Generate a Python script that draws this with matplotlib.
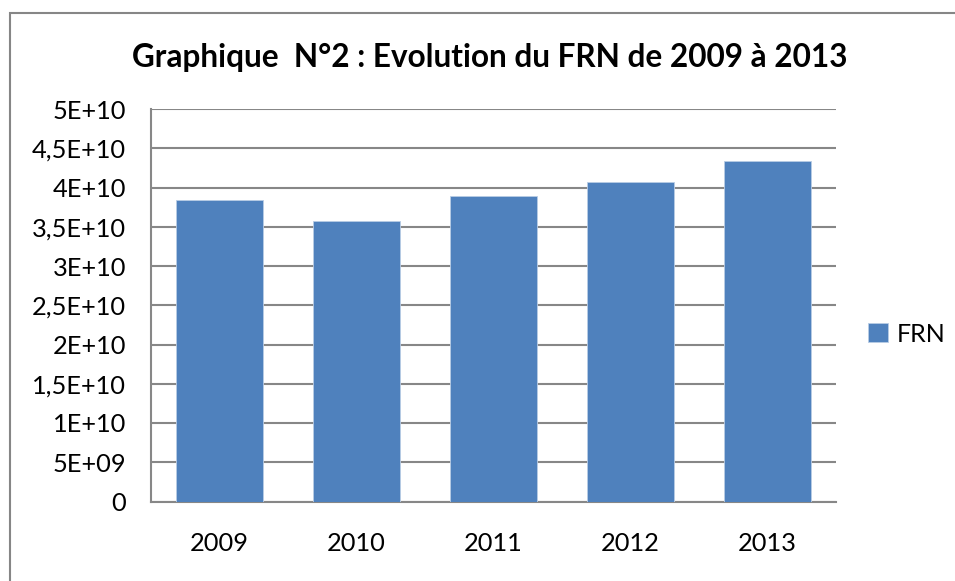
import matplotlib
matplotlib.use("Agg")
import matplotlib.pyplot as plt
from matplotlib.patches import Rectangle

years = ["2009", "2010", "2011", "2012", "2013"]
frn = [3.84e10, 3.575e10, 3.89e10, 4.065e10, 4.34e10]
yticks = [0, 5e9, 1e10, 1.5e10, 2e10, 2.5e10, 3e10, 3.5e10, 4e10, 4.5e10, 5e10]
ytick_labels = ["0", "5E+09", "1E+10", "1,5E+10", "2E+10", "2,5E+10", "3E+10",
                "3,5E+10", "4E+10", "4,5E+10", "5E+10"]
title = "Graphique  N°2 : Evolution du FRN de 2009 à 2013"
series_name = "FRN"

plt.rcParams['font.family'] = ['Lato', 'DejaVu Sans']

fig = plt.figure(figsize=(9.55, 5.81), dpi=100)
fig.patch.set_facecolor("white")
# outer chart border
fig.add_artist(Rectangle((10/955, -0.1), 1.2, 1 - 13/581 + 0.1, transform=fig.transFigure,
                         fill=False, edgecolor="#868686", linewidth=1.5))

ax = fig.add_axes([151/955, 1 - 501.5/581, (836 - 151)/955, (501.5 - 109)/581])
x = range(len(years))
ax.bar(x, frn, width=0.64, color="#4F81BD", edgecolor="#B9CDE5", linewidth=0.6,
       zorder=3, label=series_name)
ax.set_xlim(-0.5, len(years) - 0.5)
ax.set_ylim(0, 5e10)
ax.set_yticks(yticks)
ax.set_yticklabels(ytick_labels)
ax.set_xticks(list(x))
ax.set_xticklabels(years)
ax.yaxis.grid(True, color="#878787", linewidth=1.5, zorder=0)
ax.tick_params(axis="y", length=0, pad=18, labelsize=18.3)
ax.tick_params(axis="x", length=0, pad=22, labelsize=18.3)
for s in ["top", "right"]:
    ax.spines[s].set_visible(False)
for s in ["left", "bottom"]:
    ax.spines[s].set_color("#878787")
    ax.spines[s].set_linewidth(1.5)

fig.text(490/955, 1 - 57/581, title, ha="center", va="center",
         fontsize=22.7, fontweight="bold")

leg = fig.legend(loc="center left", bbox_to_anchor=(868/955, 1 - 334/581),
                 frameon=False, fontsize=18, handlelength=0.8, handleheight=0.8,
                 handletextpad=0.35, borderaxespad=0, borderpad=0)

fig.savefig("out.png", dpi=100)
